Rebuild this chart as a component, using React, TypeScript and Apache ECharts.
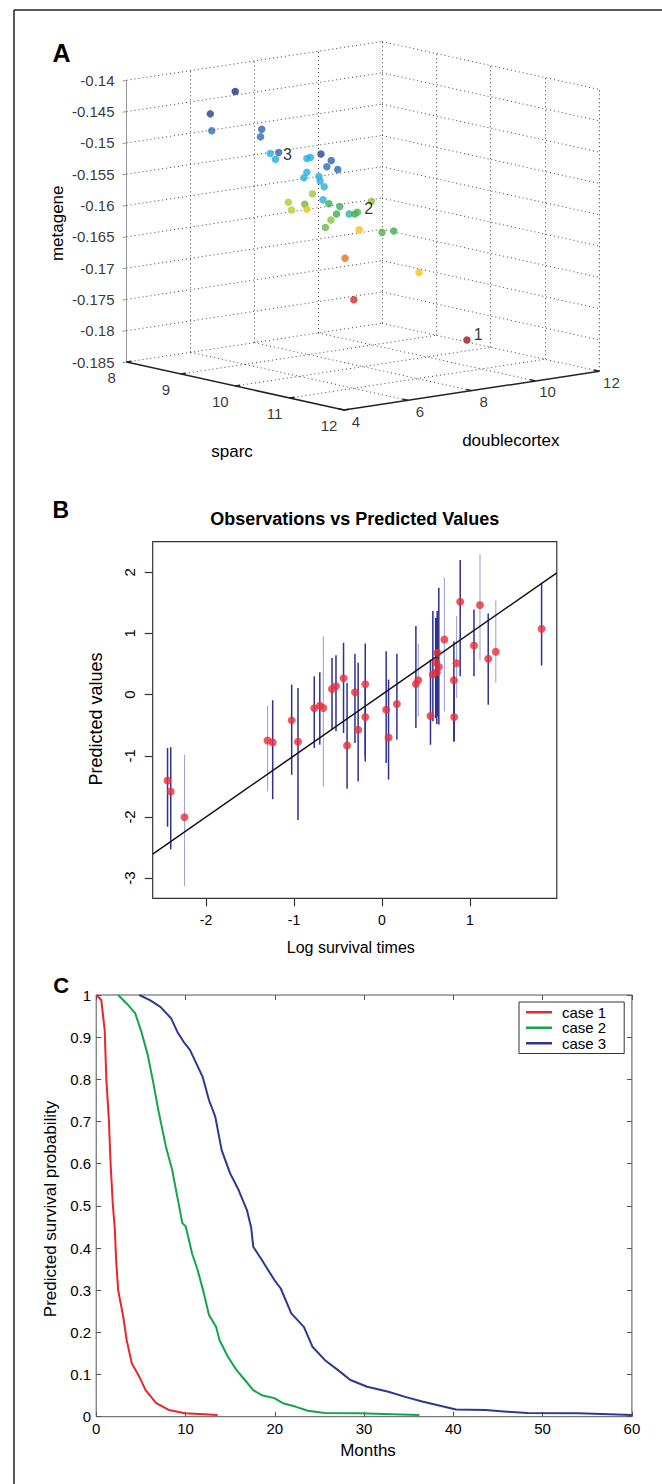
import React, { useEffect, useRef } from "react";
import * as echarts from "echarts";

// ---------------- Panel A data (3-D scatter) ----------------
const sparcTicks = [8, 9, 10, 11, 12];
const doublecortexTicks = [4, 6, 8, 10, 12];
const metageneTicks = [-0.185, -0.18, -0.175, -0.17, -0.165, -0.16, -0.155, -0.15, -0.145, -0.14];

const sparc = [9.0, 8.77, 8.78, 9.24, 9.23, 9.32, 9.4, 9.37, 9.66, 9.69, 9.79, 9.88, 9.84, 9.94, 9.66, 9.63, 9.77, 9.78, 9.82, 9.71, 9.49, 9.52, 9.64, 9.66, 9.81, 9.86, 9.96, 9.93, 10.05, 10.1, 10.12, 10.25, 9.88, 9.83, 10.14, 10.35, 10.46, 10.01, 10.69, 10.09, 11.13];
const doublecortex = [5.7, 5.31, 5.34, 6.12, 6.1, 6.25, 6.38, 6.33, 6.82, 6.88, 7.04, 7.21, 7.14, 7.31, 6.82, 6.78, 7.01, 7.03, 7.09, 6.91, 6.53, 6.58, 6.79, 6.82, 7.07, 7.17, 7.34, 7.29, 7.48, 7.57, 7.62, 7.84, 7.2, 7.11, 7.64, 8.0, 8.18, 7.42, 8.58, 7.56, 9.33];
const metagene = [-0.1412, -0.1449, -0.1476, -0.1471, -0.1483, -0.1509, -0.1507, -0.1518, -0.1515, -0.1513, -0.1507, -0.1517, -0.1527, -0.1531, -0.1537, -0.1546, -0.1543, -0.155, -0.1559, -0.1571, -0.1586, -0.1598, -0.1588, -0.1596, -0.158, -0.1586, -0.159, -0.1602, -0.1601, -0.1601, -0.1598, -0.158, -0.1612, -0.1624, -0.1626, -0.1629, -0.1626, -0.1672, -0.1691, -0.1738, -0.1796];
const riskScore = [0.02, 0.06, 0.18, 0.15, 0.17, 0.3, 0.16, 0.29, 0.3, 0.3, 0.08, 0.15, 0.17, 0.16, 0.31, 0.31, 0.3, 0.3, 0.32, 0.64, 0.66, 0.67, 0.55, 0.76, 0.33, 0.5, 0.48, 0.5, 0.4, 0.5, 0.52, 0.6, 0.6, 0.55, 0.8, 0.52, 0.5, 0.86, 0.8, 0.93, 1.0];
const caseIndex = [40, 30, 6];
const caseNames = ["1", "2", "3"];

// ---------------- Panel B data ----------------
const logSurvivalTicks = [-2, -1, 0, 1];
const predictedTicks = [-3, -2, -1, 0, 1, 2];
const logSurvival = [-2.438, -2.402, -2.245, -1.3, -1.242, -1.026, -0.954, -0.769, -0.706, -0.666, -0.567, -0.522, -0.436, -0.396, -0.306, -0.27, -0.189, -0.189, 0.049, 0.076, 0.171, 0.387, 0.414, 0.553, 0.58, 0.612, 0.63, 0.625, 0.648, 0.711, 0.819, 0.823, 0.85, 0.891, 1.048, 1.116, 1.21, 1.296, 1.817];
const predicted = [-1.404, -1.585, -2.005, -0.749, -0.781, -0.421, -0.77, -0.224, -0.18, -0.219, 0.093, 0.137, 0.268, -0.831, 0.038, -0.574, 0.169, -0.366, -0.246, -0.7, -0.153, 0.175, 0.235, -0.35, 0.328, 0.53, 0.683, 0.366, 0.454, 0.902, 0.235, -0.366, 0.514, 1.519, 0.803, 1.464, 0.585, 0.7, 1.077];
const predictedLow = [-2.16, -2.53, -3.13, -1.585, -1.71, -1.311, -2.05, -0.874, -0.82, -1.503, -0.574, -0.6, -0.628, -1.54, -0.79, -1.42, -1.093, -1.01, -1.12, -1.39, -0.738, -0.546, -0.355, -0.82, -0.437, -0.383, -0.355, -0.48, -0.49, -0.273, -0.765, -0.765, -0.055, 0.3, 0.3, 0.563, -0.164, 0.2, 0.475];
const predictedHigh = [-0.874, -0.858, -0.984, -0.18, -0.093, 0.164, 0.109, 0.3, 0.366, 0.956, 0.6, 0.645, 0.847, 0.19, 0.667, 0.52, 0.836, 0.11, 0.71, 0.246, 0.667, 1.12, 0.83, 0.574, 1.366, 1.257, 1.366, 1.25, 1.749, 1.913, 0.874, 0.3, 1.284, 2.202, 1.393, 2.295, 1.328, 1.54, 1.83];
const censored = [0, 0, 1, 1, 0, 0, 0, 0, 0, 1, 0, 0, 0, 0, 0, 0, 0, 0, 0, 0, 0, 0, 1, 0, 0, 0, 0, 0, 0, 1, 0, 0, 1, 0, 0, 1, 0, 1, 0];

// ---------------- Panel C data ----------------
const case1Months = [0, 0.57, 0.95, 1.14, 1.42, 1.61, 1.85, 2.09, 2.23, 2.46, 3.03, 3.41, 3.98, 4.83, 5.53, 6.72, 8.13, 9.93, 13.6];
const case1Surv = [1, 0.988, 0.917, 0.798, 0.704, 0.601, 0.507, 0.443, 0.372, 0.3, 0.237, 0.182, 0.127, 0.095, 0.063, 0.032, 0.016, 0.008, 0.004];
const case2Months = [2.46, 3.41, 4.36, 5.06, 5.77, 6.34, 6.96, 7.81, 8.51, 9.08, 9.65, 10.03, 10.74, 11.36, 12.02, 12.63, 13.43, 13.81, 14.75, 15.7, 16.65, 17.59, 18.54, 19.96, 20.9, 22.3, 23.7, 25.6, 29.4, 33.2, 36.2];
const case2Surv = [1, 0.98, 0.957, 0.913, 0.858, 0.798, 0.727, 0.64, 0.585, 0.522, 0.459, 0.451, 0.387, 0.348, 0.296, 0.241, 0.213, 0.182, 0.142, 0.111, 0.087, 0.063, 0.051, 0.044, 0.032, 0.024, 0.014, 0.009, 0.008, 0.006, 0.004];
const case3Months = [4.83, 6.01, 7.19, 8.38, 9.08, 9.79, 10.5, 11.21, 11.92, 12.63, 13.34, 14.05, 15.0, 15.94, 16.88, 17.36, 17.59, 18.54, 19.25, 19.96, 20.67, 21.85, 23.26, 24.22, 25.63, 27.05, 28.47, 30.35, 32.73, 34.61, 36.51, 38.87, 40.3, 43.6, 46.0, 48.3, 54.0, 60];
const case3Surv = [1, 0.988, 0.972, 0.945, 0.913, 0.889, 0.87, 0.838, 0.806, 0.751, 0.711, 0.632, 0.577, 0.538, 0.49, 0.448, 0.403, 0.372, 0.348, 0.324, 0.304, 0.245, 0.213, 0.166, 0.134, 0.111, 0.087, 0.071, 0.059, 0.047, 0.036, 0.024, 0.017, 0.016, 0.012, 0.009, 0.008, 0.004];
const monthTicks = [0, 10, 20, 30, 40, 50, 60];
const survivalTicks = [0, 0.1, 0.2, 0.3, 0.4, 0.5, 0.6, 0.7, 0.8, 0.9, 1];
const caseLegend = ["case 1", "case 2", "case 3"];

// ---------------- layout / style ----------------
const FONT = "'Liberation Sans', Arial, Helvetica, sans-serif";
const A_ORIGIN = [126.6, 362];
const A_SPARC_STEP = [54.35, 12];
const A_DC_STEP = [31.93, -4.84];
const A_META_PX = 6260;
const B_X_RANGE = [-2.607, 1.99];
const B_Y_RANGE = [-3.33, 2.5];

function projectA(s: number, d: number, z: number): [number, number] {
  const ds = s - sparcTicks[0];
  const dd = d - doublecortexTicks[0];
  const dz = z - metageneTicks[0];
  return [
    A_ORIGIN[0] + ds * A_SPARC_STEP[0] + dd * A_DC_STEP[0],
    A_ORIGIN[1] + ds * A_SPARC_STEP[1] + dd * A_DC_STEP[1] - dz * A_META_PX,
  ];
}

function buildOption() {
  const P = projectA;
  const s0 = sparcTicks[0];
  const s1 = sparcTicks[sparcTicks.length - 1];
  const d0 = doublecortexTicks[0];
  const d1 = doublecortexTicks[doublecortexTicks.length - 1];
  const z0 = metageneTicks[0];
  const z1 = metageneTicks[metageneTicks.length - 1];
  const seg = (a: number[], b: number[]) => ({ coords: [a, b] });

  const gridSegs: any[] = [];
  metageneTicks.forEach((z) => {
    gridSegs.push(seg(P(s0, d0, z), P(s0, d1, z)));
    gridSegs.push(seg(P(s0, d1, z), P(s1, d1, z)));
  });
  doublecortexTicks.slice(1).forEach((d) => gridSegs.push(seg(P(s0, d, z0), P(s0, d, z1))));
  sparcTicks.slice(1).forEach((s) => gridSegs.push(seg(P(s, d1, z0), P(s, d1, z1))));
  sparcTicks.slice(1, -1).forEach((s) => gridSegs.push(seg(P(s, d0, z0), P(s, d1, z0))));
  doublecortexTicks.slice(1, -1).forEach((d) => gridSegs.push(seg(P(s0, d, z0), P(s1, d, z0))));

  const zAxisSegs: any[] = [seg(P(s0, d0, z0), P(s0, d0, z1))];
  metageneTicks.forEach((z) => zAxisSegs.push(seg(P(s0, d0 - 0.13, z), P(s0, d0, z))));

  const floorAxisSegs: any[] = [seg(P(s0, d0, z0), P(s1, d0, z0)), seg(P(s1, d0, z0), P(s1, d1, z0))];
  sparcTicks.forEach((s) => floorAxisSegs.push(seg(P(s, d0, z0), P(s, d0 + 0.15, z0))));
  doublecortexTicks.forEach((d) => floorAxisSegs.push(seg(P(s1, d, z0), P(s1 - 0.1, d, z0))));

  const fmtMeta = (v: number) => String(Number(v.toFixed(3)));
  const zLabels = metageneTicks.map((z) => ({ value: P(s0, d0, z), name: fmtMeta(z) }));
  const sLabels = sparcTicks.map((s) => ({ value: P(s, d0, z0), name: String(s) }));
  const dLabels = doublecortexTicks.map((d) => ({ value: P(s1, d, z0), name: String(d) }));

  const pointsA = sparc.map((s, i) => {
    const xy = P(s, doublecortex[i], metagene[i]);
    const k = caseIndex.indexOf(i);
    const item: any = { value: [xy[0], xy[1], riskScore[i]] };
    if (k >= 0) {
      item.label = {
        show: true,
        formatter: caseNames[k],
        position: "right",
        distance: k === 2 ? 0.5 : 3,
        offset: k === 0 ? [0, -5] : k === 1 ? [0, -4] : [0, 2],
        color: "#000",
        fontSize: 16,
        fontFamily: FONT,
      };
    }
    return item;
  });

  const labelSeries = (data: any[], label: any) => ({
    type: "scatter",
    xAxisIndex: 0,
    yAxisIndex: 0,
    symbolSize: 0.1,
    itemStyle: { color: "rgba(0,0,0,0)" },
    silent: true,
    data,
    label: { show: true, formatter: "{b}", color: "#000", fontSize: 15, lineHeight: 14, fontFamily: FONT, ...label },
  });

  const textEl = (text: string, x: number, y: number, size: number, opts: any = {}) => ({
    type: "text",
    x,
    y,
    rotation: opts.rotation || 0,
    silent: true,
    style: {
      text,
      fill: "#000",
      fontSize: size,
      fontFamily: FONT,
      fontWeight: opts.bold ? "bold" : "normal",
      align: "center",
      verticalAlign: "middle",
    },
  });

  const lineEl = (x1: number, y1: number, x2: number, y2: number) => ({
    type: "line",
    silent: true,
    shape: { x1, y1, x2, y2 },
    style: { stroke: "#222", lineWidth: 1.5 },
  });

  const cTick = { show: true, inside: true, length: 5, lineStyle: { color: "#555" } };

  return {
    animation: false,
    backgroundColor: "#fff",
    textStyle: { fontFamily: FONT },
    grid: [
      { left: 0, top: 0, width: 662, height: 480 },
      { left: 152.7, top: 541.7, width: 404.1, height: 356.6, show: true, borderColor: "#333", borderWidth: 1.2 },
      { left: 96.2, top: 995, width: 535.7, height: 421.7, show: true, borderColor: "#555", borderWidth: 1 },
    ],
    xAxis: [
      { gridIndex: 0, type: "value", min: 0, max: 662, show: false },
      {
        gridIndex: 1,
        type: "value",
        position: "bottom",
        min: B_X_RANGE[0],
        max: B_X_RANGE[1],
        axisLine: { show: false, onZero: false },
        splitLine: { show: false },
        axisTick: { show: true, inside: false, length: 8, lineStyle: { color: "#333", width: 1.2 }, customValues: logSurvivalTicks },
        axisLabel: {
          fontSize: 14,
          color: "#000",
          margin: 15,
          customValues: logSurvivalTicks,
          formatter: (v: number) => (Number.isInteger(v) ? String(v) : ""),
        },
      },
      {
        gridIndex: 2,
        type: "value",
        position: "bottom",
        min: monthTicks[0],
        max: monthTicks[monthTicks.length - 1],
        interval: 10,
        axisLine: { show: false, onZero: false },
        splitLine: { show: false },
        axisTick: cTick,
        axisLabel: { fontSize: 15, color: "#000", margin: 4 },
      },
      {
        gridIndex: 2,
        type: "value",
        position: "top",
        min: monthTicks[0],
        max: monthTicks[monthTicks.length - 1],
        interval: 10,
        axisLine: { show: false, onZero: false },
        splitLine: { show: false },
        axisTick: cTick,
        axisLabel: { show: false },
      },
    ],
    yAxis: [
      { gridIndex: 0, type: "value", min: 0, max: 480, inverse: true, show: false },
      {
        gridIndex: 1,
        type: "value",
        position: "left",
        min: B_Y_RANGE[0],
        max: B_Y_RANGE[1],
        axisLine: { show: false, onZero: false },
        splitLine: { show: false },
        axisTick: { show: true, inside: false, length: 8, lineStyle: { color: "#333", width: 1.2 }, customValues: predictedTicks },
        axisLabel: {
          fontSize: 15,
          color: "#000",
          margin: 16,
          rotate: 90,
          customValues: predictedTicks,
          formatter: (v: number) => (Number.isInteger(v) ? String(v) : ""),
        },
      },
      {
        gridIndex: 2,
        type: "value",
        position: "left",
        min: survivalTicks[0],
        max: survivalTicks[survivalTicks.length - 1],
        interval: 0.1,
        axisLine: { show: false, onZero: false },
        splitLine: { show: false },
        axisTick: cTick,
        axisLabel: { fontSize: 15, color: "#000", margin: 5 },
      },
      {
        gridIndex: 2,
        type: "value",
        position: "right",
        min: survivalTicks[0],
        max: survivalTicks[survivalTicks.length - 1],
        interval: 0.1,
        axisLine: { show: false, onZero: false },
        splitLine: { show: false },
        axisTick: cTick,
        axisLabel: { show: false },
      },
    ],
    visualMap: {
      type: "continuous",
      show: false,
      seriesIndex: 6,
      dimension: 2,
      min: 0,
      max: 1,
      inRange: {
        color: ["#1d2876", "#2a4fa3", "#2c78c2", "#25b0e3", "#2db3a4", "#3fae4f", "#8cc23e", "#c9d22c", "#f4c20f", "#e8302a", "#9c1a1a"],
      },
    },
    legend: {
      data: caseLegend,
      orient: "vertical",
      left: 519,
      top: 1002,
      icon: "rect",
      itemWidth: 26,
      itemHeight: 2.5,
      itemGap: 0,
      padding: [2.5, 18, 2.5, 7],
      borderColor: "#333",
      borderWidth: 1,
      backgroundColor: "#fff",
      textStyle: { fontSize: 15, color: "#000", lineHeight: 15.5, fontFamily: FONT, padding: [0, 0, 0, 5] },
    },
    series: [
      {
        type: "lines",
        coordinateSystem: "cartesian2d",
        xAxisIndex: 0,
        yAxisIndex: 0,
        silent: true,
        data: gridSegs,
        lineStyle: { color: "#222", width: 1, type: [1, 3], opacity: 0.85 },
      },
      {
        type: "lines",
        coordinateSystem: "cartesian2d",
        xAxisIndex: 0,
        yAxisIndex: 0,
        silent: true,
        data: zAxisSegs,
        lineStyle: { color: "#999", width: 1, opacity: 1 },
      },
      {
        type: "lines",
        coordinateSystem: "cartesian2d",
        xAxisIndex: 0,
        yAxisIndex: 0,
        silent: true,
        data: floorAxisSegs,
        lineStyle: { color: "#222", width: 1.5, opacity: 1 },
      },
      labelSeries(zLabels, { position: "left", distance: 12 }),
      labelSeries(sLabels, { position: "inside", offset: [-15, 15] }),
      labelSeries(dLabels, { position: "inside", offset: [12, 11] }),
      {
        type: "scatter",
        xAxisIndex: 0,
        yAxisIndex: 0,
        symbolSize: 7.5,
        z: 5,
        data: pointsA,
      },
      {
        type: "custom",
        xAxisIndex: 1,
        yAxisIndex: 1,
        silent: true,
        data: logSurvival.map((x, i) => [x, predictedLow[i], predictedHigh[i], censored[i]]),
        encode: { x: 0, y: [1, 2] },
        renderItem: (_p: any, api: any) => {
          const a = api.coord([api.value(0), api.value(1)]);
          const b = api.coord([api.value(0), api.value(2)]);
          const light = api.value(3) === 1;
          return {
            type: "line",
            shape: { x1: a[0], y1: a[1], x2: b[0], y2: b[1] },
            style: { stroke: light ? "#a3a4d2" : "#2e318f", lineWidth: light ? 1.1 : 1.5 },
          };
        },
      },
      {
        type: "line",
        xAxisIndex: 1,
        yAxisIndex: 1,
        silent: true,
        showSymbol: false,
        data: [
          [B_X_RANGE[0], B_X_RANGE[0]],
          [B_X_RANGE[1], B_X_RANGE[1]],
        ],
        lineStyle: { color: "#111", width: 1.5 },
        z: 3,
      },
      {
        type: "scatter",
        xAxisIndex: 1,
        yAxisIndex: 1,
        silent: true,
        symbolSize: 8,
        itemStyle: { color: "#e8303b" },
        data: logSurvival.map((x, i) => [x, predicted[i]]),
        z: 4,
      },
      {
        name: caseLegend[0],
        type: "line",
        xAxisIndex: 2,
        yAxisIndex: 2,
        showSymbol: false,
        color: "#e8262b",
        lineStyle: { width: 2 },
        data: case1Months.map((m, i) => [m, case1Surv[i]]),
      },
      {
        name: caseLegend[1],
        type: "line",
        xAxisIndex: 2,
        yAxisIndex: 2,
        showSymbol: false,
        color: "#12a54a",
        lineStyle: { width: 2 },
        data: case2Months.map((m, i) => [m, case2Surv[i]]),
      },
      {
        name: caseLegend[2],
        type: "line",
        xAxisIndex: 2,
        yAxisIndex: 2,
        showSymbol: false,
        color: "#2b3990",
        lineStyle: { width: 2 },
        data: case3Months.map((m, i) => [m, case3Surv[i]]),
      },
    ],
    graphic: [
      lineEl(14, 10, 662, 10),
      lineEl(14, 10, 14, 1484),
      textEl("A", 61.5, 52.5, 25, { bold: true }),
      textEl("B", 60.8, 510, 23, { bold: true }),
      textEl("C", 61.2, 985.8, 22, { bold: true }),
      textEl("metagene", 57, 223.3, 17, { rotation: Math.PI / 2 }),
      textEl("sparc", 232, 451.7, 17),
      textEl("doublecortex", 510.8, 440, 17),
      textEl("Observations vs Predicted Values", 354.8, 519.3, 18, { bold: true }),
      textEl("Predicted values", 95.7, 719, 18, { rotation: Math.PI / 2 }),
      textEl("Log survival times", 350.8, 947.7, 16),
      textEl("Predicted survival probability", 50.7, 1209, 17, { rotation: Math.PI / 2 }),
      textEl("Months", 368, 1450.7, 17),
    ],
  };
}

export default function App() {
  const ref = useRef<HTMLDivElement>(null);
  useEffect(() => {
    if (!ref.current) return;
    const chart = echarts.init(ref.current, null, { renderer: "svg" });
    chart.setOption(buildOption() as any);
    return () => chart.dispose();
  }, []);
  return (
    <div
      ref={ref}
      style={{ position: "absolute", left: 0, top: 0, width: 662, height: 1484, background: "#fff" }}
    />
  );
}
